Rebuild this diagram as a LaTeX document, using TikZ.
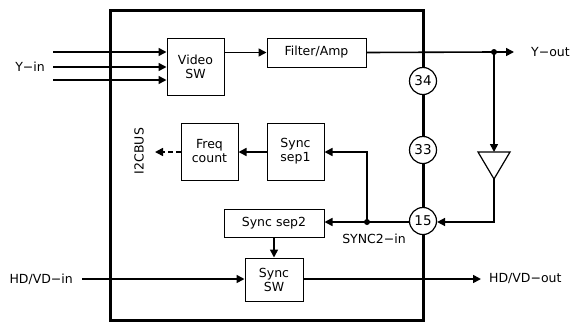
\documentclass[tikz,border=0pt]{standalone}
\usepackage{fontspec}
\setmainfont{DejaVu Sans}
\usetikzlibrary{arrows.meta}
\begin{document}
\begin{tikzpicture}[x=1pt,y=-1pt,
  font=\fontsize{12.5}{14}\selectfont,
  blk/.style={draw,line width=1pt,fill=white,inner sep=0pt,align=center},
  pin/.style={draw,circle,line width=1.2pt,fill=white,inner sep=0pt,minimum size=27pt,font=\fontsize{13.5}{15}\selectfont},
  wire/.style={line width=1.6pt},
  arr/.style={wire,-{Triangle[length=8pt,width=8pt]}}]
\useasboundingbox (0,0) rectangle (570,322);
% chip outline
\draw[line width=3pt] (110,10) rectangle (423,320.5);
% blocks
\node[blk,minimum width=57pt,minimum height=57pt] (vsw) at (195.5,66.5) {Video\\SW};
\node[blk,minimum width=99pt,minimum height=29pt] (filt) at (316.5,52.5) {Filter/Amp};
\node[blk,minimum width=57pt,minimum height=57pt] (sep1) at (295.5,151.5) {Sync\\sep1};
\node[blk,minimum width=57pt,minimum height=57pt] (freq) at (209.5,151.5) {Freq\\count};
\node[blk,minimum width=100pt,minimum height=28pt] (sep2) at (274,223) {Sync sep2};
\node[blk,minimum width=58pt,minimum height=43pt] (ssw) at (274,279.5) {Sync\\SW};
% pins
\node[pin] (c34) at (423,81) {34};
\node[pin] (c33) at (423,150) {33};
\node[pin] (c15) at (423,221) {15};
% coordinates
\coordinate (yin1) at (53,52);
\coordinate (yin2) at (53,67);
\coordinate (yin3) at (53,80);
\coordinate (dot) at (494,52);
\coordinate (yout) at (514,52);
\coordinate (tritop) at (494,152);
\coordinate (tribot) at (494,179);
\coordinate (tricorner) at (494,222);
\coordinate (dot2) at (367,222);
\coordinate (sep1in) at (367,152);
\coordinate (i2c) at (155,152);
\coordinate (hdin) at (82,279);
\coordinate (hdout) at (481,279);
% labels
\node[anchor=east,inner sep=0pt] (lyin) at (45,67) {Y−in};
\node[anchor=west,inner sep=0pt] (lyout) at (531,52) {Y−out};
\node[anchor=east,inner sep=0pt] (lhdin) at (73,279) {HD/VD−in};
\node[anchor=west,inner sep=0pt] (lhdout) at (489,279) {HD/VD−out};
\node[inner sep=0pt] (lsync2) at (374,238.5) {SYNC2−in};
\node[inner sep=0pt,rotate=90] (li2c) at (139,151) {I2CBUS};
% triangle (buffer)
\draw[line width=1.2pt] (478,152) -- (510,152) -- (tribot) -- cycle;
% connectors
\draw[arr] (yin1) -- (vsw.west |- yin1);
\draw[arr] (yin2) -- (vsw.west |- yin2);
\draw[arr] (yin3) -- (vsw.west |- yin3);
\draw[arr] (vsw.east |- filt.west) -- (filt.west);
\draw[wire] (filt.east) -- (dot);
\draw[arr] (dot) -- (yout);
\fill (dot) circle (3pt);
\draw[arr] (dot) -- (tritop);
\draw[arr] (tribot) -- (tricorner) -- (c15.east |- tricorner);
\draw[arr] (c15.west |- dot2) -- (sep2.east |- dot2);
\draw[arr] (dot2) -- (sep1in) -- (sep1.east |- sep1in);
\fill (dot2) circle (3pt);
\draw[arr] (sep1.west |- sep1in) -- (freq.east |- sep1in);
\draw[arr,dash pattern=on 5pt off 3pt] (freq.west |- i2c) -- (i2c);
\draw[arr] (sep2.south) -- (ssw.north);
\draw[arr] (hdin) -- (ssw.west |- hdin);
\draw[arr] (ssw.east |- hdout) -- (hdout);
\end{tikzpicture}
\end{document}
